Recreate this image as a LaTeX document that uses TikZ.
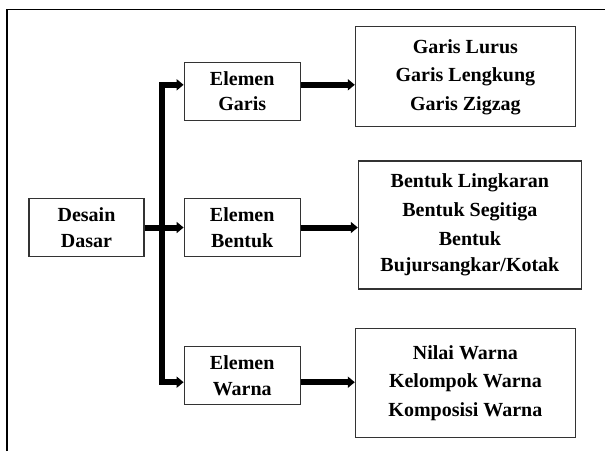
\documentclass[tikz,border=0pt]{standalone}
\usepackage{fontspec}
\setmainfont{Liberation Serif}
\usetikzlibrary{positioning, arrows.meta}

\begin{document}
\begin{tikzpicture}[x=1pt, y=-1pt,
    every node/.style={font=\fontsize{20}{25.5}\selectfont\bfseries},
    kotak/.style={rectangle, draw=black!80, line width=1.2pt, align=center, inner sep=0pt},
    elemen/.style={kotak, minimum width=116pt, minimum height=58pt},
    daftar/.style={kotak, minimum width=220pt},
    arrow/.style={-{Triangle[length=7pt, width=11pt]}, line width=6pt}]

  \useasboundingbox (0,0) rectangle (605,451);
  \draw[line width=1.5pt] (7,451) |- (605,9.5);

  \node[elemen, minimum width=115pt] (dasar) at (86.5,227.5) {Desain\\Dasar};
  \node[elemen, right=39pt of dasar] (bentuk) {Elemen\\Bentuk};
  \node[elemen, above=77pt of bentuk] (garis) {Elemen\\Garis};
  \node[elemen, below=89pt of bentuk] (warna) {Elemen\\Warna};

  \node[daftar, minimum height=100pt, right=54pt of garis, yshift=14.5pt] (jenisgaris)
    {Garis Lurus\\[3pt]Garis Lengkung\\[3pt]Garis Zigzag};
  \node[daftar, minimum width=223pt, minimum height=128pt, right=57pt of bentuk, yshift=2.5pt] (jenisbentuk)
    {Bentuk Lingkaran\\[3.5pt]Bentuk Segitiga\\[3.5pt]Bentuk\\Bujursangkar/Kotak};
  \node[daftar, minimum height=109pt, right=54pt of warna, yshift=-7pt] (jeniswarna)
    {Nilai Warna\\[3pt]Kelompok Warna\\[3pt]Komposisi Warna};

  \coordinate[right=17.5pt of dasar] (cabang);
  \coordinate (kegaris) at ([yshift=6.5pt]garis.east);
  \coordinate (kewarna) at ([yshift=-6.5pt]warna.east);

  \draw[arrow] (dasar) -- (bentuk);
  \draw[arrow] (cabang) |- ([yshift=6.5pt]garis.west);
  \draw[arrow] (cabang) |- ([yshift=-6.5pt]warna.west);
  \draw[arrow] (kegaris) -- (kegaris -| jenisgaris.west);
  \draw[arrow] (bentuk) -- (bentuk -| jenisbentuk.west);
  \draw[arrow] (kewarna) -- (kewarna -| jeniswarna.west);
\end{tikzpicture}
\end{document}
